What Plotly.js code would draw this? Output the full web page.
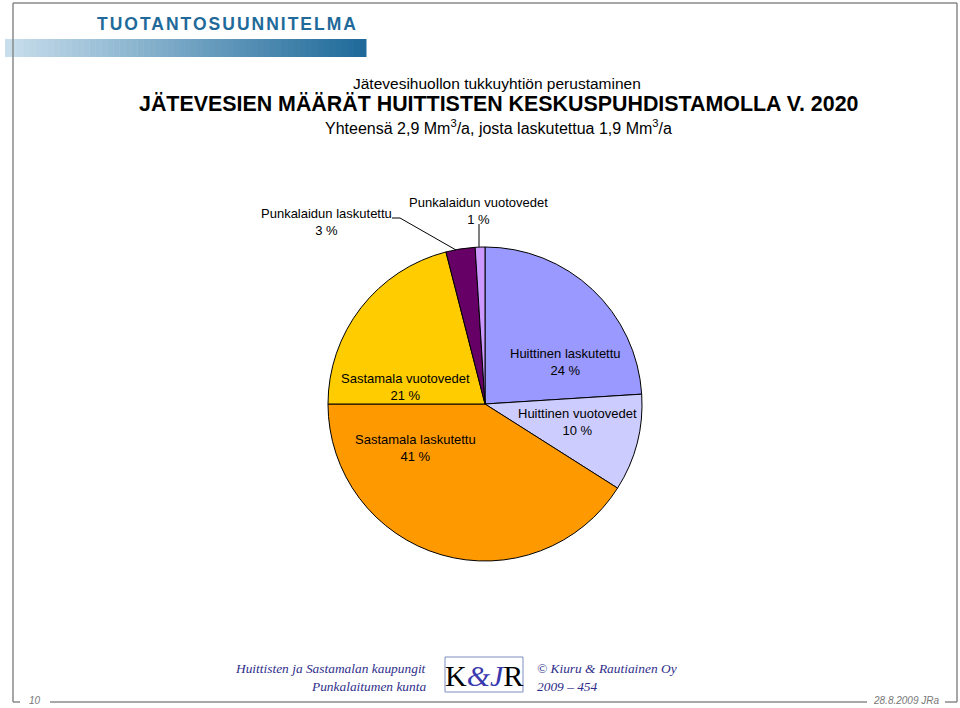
<!DOCTYPE html>
<html>
<head>
<meta charset="utf-8">
<script src="https://cdn.plot.ly/plotly-3.0.1.min.js"></script>
<style>
  body { margin: 0; background: #fff; }
  #chart { width: 960px; height: 708px; }
</style>
</head>
<body>
<div id="chart"></div>
<script>
// Slices, clockwise from 12 o'clock
var sliceLabels = ["Huittinen laskutettu", "Huittinen vuotovedet", "Sastamala laskutettu",
                   "Sastamala vuotovedet", "Punkalaidun laskutettu", "Punkalaidun vuotovedet"];
var slicePercents = [24, 10, 41, 21, 3, 1];
var sliceColors = ["#9999FF", "#CCCCFF", "#FF9900", "#FFCC00", "#660066", "#CC99FF"];

// label centres in pixels (same order as slices)
var labelPos = [[565, 362], [577, 422], [415, 448], [405, 387], [326, 222], [478, 211]];

var W = 960, H = 708;
function px(x) { return x / W; }
function py(y) { return 1 - y / H; }

var cx = 485, cy = 404, r = 157;

var trace = {
  type: "pie",
  labels: sliceLabels,
  values: slicePercents,
  sort: false,
  direction: "clockwise",
  rotation: 0,
  textinfo: "none",
  hoverinfo: "label+percent",
  marker: { colors: sliceColors, line: { color: "#000", width: 1 } },
  domain: { x: [px(cx - r), px(cx + r)], y: [py(cy + r), py(cy - r)] },
  showlegend: false
};

var annotations = [];
function note(x, y, text, font, anchor) {
  annotations.push({
    xref: "paper", yref: "paper", x: px(x), y: py(y),
    xanchor: anchor || "center", yanchor: "middle",
    text: text, showarrow: false, font: font, align: anchor || "center"
  });
}

for (var i = 0; i < sliceLabels.length; i++) {
  note(labelPos[i][0], labelPos[i][1], sliceLabels[i] + "<br>" + slicePercents[i] + " %",
       { family: "Liberation Sans, Arial", size: 13, color: "#000" });
}

// titles
note(497, 83, "Jätevesihuollon tukkuyhtiön perustaminen",
     { family: "Liberation Sans, Arial", size: 15.5, color: "#000" });
note(499, 104, "<b>JÄTEVESIEN MÄÄRÄT HUITTISTEN KESKUSPUHDISTAMOLLA V. 2020</b>",
     { family: "Liberation Sans, Arial", size: 21.4, color: "#000" });
note(498, 127, "Yhteensä 2,9 Mm<sup>3</sup>/a, josta laskutettua 1,9 Mm<sup>3</sup>/a",
     { family: "Liberation Sans, Arial", size: 16, color: "#000" });

// header
note(95, 24, "<b>TUOTANTOSUUNNITELMA</b>",
     { family: "Liberation Sans, Arial", size: 17.5, color: "#1F6A9A" }, "left");

// footer
var serifIt = { family: "Liberation Serif, Times New Roman", size: 13.4, color: "#2E2E8A" };
note(428, 668, "<i>Huittisten ja Sastamalan kaupungit</i>", serifIt, "right");
note(428, 686, "<i>Punkalaitumen kunta</i>", serifIt, "right");
note(535, 668, "<i>© Kiuru & Rautiainen Oy</i>", serifIt, "left");
note(535, 686, "<i>2009 – 454</i>", serifIt, "left");
note(484, 675, "K<span style='color:#3A3AB0'><i>&amp;J</i></span>R",
     { family: "Liberation Serif", size: 30, color: "#000" });
note(35, 700, "<i>10</i>", { family: "Liberation Sans", size: 10, color: "#777" });
note(906, 700, "<i>28.8.2009 JRa</i>", { family: "Liberation Sans", size: 10, color: "#777" });

var shapes = [];
function line(x0, y0, x1, y1, color, width) {
  shapes.push({ type: "line", xref: "paper", yref: "paper",
    x0: px(x0), y0: py(y0), x1: px(x1), y1: py(y1),
    line: { color: color, width: width } });
}

// leader lines
line(392, 218, 400, 218, "#000", 1);
line(400, 218, 456, 250, "#000", 1);
line(479, 224, 479, 247, "#000", 1);

// slide frame
var fc = "#8A8A8A";
line(13, 3, 957, 3, fc, 1.5);
line(13, 3, 13, 702, fc, 1.5);
line(957, 3, 957, 702, fc, 1.5);
line(13, 702, 20, 702, fc, 1.5);
line(50, 702, 867, 702, fc, 1.5);
line(945, 702, 957, 702, fc, 1.5);

// logo box
shapes.push({ type: "rect", xref: "paper", yref: "paper",
  x0: px(445), x1: px(523), y0: py(692), y1: py(657),
  line: { color: "#7F8FC0", width: 1 } });

// gradient bar under header
var strips = 60, bx0 = 5, bx1 = 366;
var c0 = [200, 222, 236], c1 = [31, 106, 154];
for (var s = 0; s < strips; s++) {
  var t = s / (strips - 1);
  var col = "rgb(" + [0, 1, 2].map(function (k) { return Math.round(c0[k] + (c1[k] - c0[k]) * t); }).join(",") + ")";
  var w = (bx1 - bx0) / strips;
  shapes.push({ type: "rect", xref: "paper", yref: "paper", layer: "below",
    x0: px(bx0 + s * w), x1: px(bx0 + (s + 1) * w + 0.5), y0: py(57), y1: py(39),
    fillcolor: col, line: { width: 0 } });
}

var layout = {
  width: W, height: H,
  margin: { l: 0, r: 0, t: 0, b: 0 },
  paper_bgcolor: "#fff",
  showlegend: false,
  annotations: annotations,
  shapes: shapes
};

Plotly.newPlot("chart", [trace], layout, { displayModeBar: false, staticPlot: true }).then(function () {
  // spaced-out header lettering
  document.querySelectorAll(".annotation-text").forEach(function (el) {
    if (el.textContent === "TUOTANTOSUUNNITELMA") el.setAttribute("letter-spacing", "2px");
  });
});
</script>
</body>
</html>
